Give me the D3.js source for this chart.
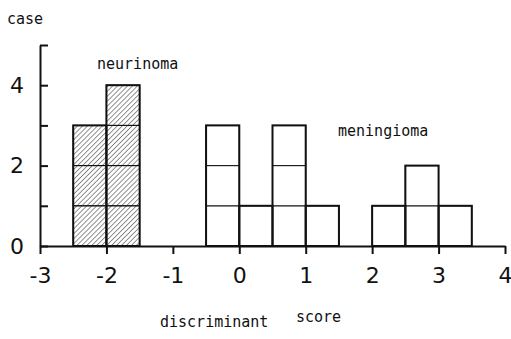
<!DOCTYPE html>
<html>
<head>
<meta charset="utf-8">
<script src="https://cdn.jsdelivr.net/npm/d3@7"></script>
<style>
  body { margin: 0; background: #fff; }
  .mono { font-family: "DejaVu Sans Mono", monospace; font-size: 15px; fill: #111; }
  .tick text { font-family: "DejaVu Sans", sans-serif; font-size: 22px; fill: #111; }
</style>
</head>
<body>
<div id="chart"></div>
<script>
const binWidth = 0.5;
const neurinomaStarts = [-2.5, -2];
const neurinomaCounts = [3, 4];
const meningiomaStarts = [-0.5, 0, 0.5, 1, 2, 2.5, 3];
const meningiomaCounts = [3, 1, 3, 1, 1, 2, 1];
const xTicks = [-3, -2, -1, 0, 1, 2, 3, 4];
const yTicks = [0, 1, 2, 3, 4, 5];
const yLabels = [0, 2, 4];

const width = 511, height = 339;

const svg = d3.select('#chart')
    .append('svg')
    .attr('width', width)
    .attr('height', height);

const x = d3.scaleLinear().domain([-3, 4]).range([40, 505]);
const y = d3.scaleLinear().domain([0, 5]).range([246, 45]);

// hatch fill
svg.append('defs').append('pattern')
    .attr('id', 'hatch')
    .attr('patternUnits', 'userSpaceOnUse')
    .attr('width', 3.5).attr('height', 3.5)
    .attr('patternTransform', 'rotate(45)')
    .append('line')
    .attr('x1', 0).attr('y1', 0).attr('x2', 0).attr('y2', 3.5)
    .attr('stroke', '#222').attr('stroke-width', 1);

function drawBars(starts, counts, fill) {
    const data = starts.map((s, i) => ({ start: s, count: counts[i] }));
    const g = svg.append('g');
    data.forEach(d => {
        // unit cells
        for (let k = 0; k < d.count; k++) {
            g.append('rect')
                .attr('x', x(d.start))
                .attr('y', y(k + 1))
                .attr('width', x(d.start + binWidth) - x(d.start))
                .attr('height', y(k) - y(k + 1))
                .attr('fill', fill)
                .attr('stroke', '#111')
                .attr('stroke-width', 1);
        }
    });
    g.selectAll('rect.outline')
        .data(data)
        .enter()
        .append('rect')
        .attr('class', 'outline')
        .attr('x', d => x(d.start))
        .attr('y', d => y(d.count))
        .attr('width', d => x(d.start + binWidth) - x(d.start))
        .attr('height', d => y(0) - y(d.count))
        .attr('fill', 'none')
        .attr('stroke', '#111')
        .attr('stroke-width', 2);
}

drawBars(neurinomaStarts, neurinomaCounts, 'url(#hatch)');
drawBars(meningiomaStarts, meningiomaCounts, '#fff');

// axes
const xAxis = svg.append('g')
    .attr('transform', `translate(0, ${y(0)})`)
    .call(d3.axisBottom(x).tickValues(xTicks).tickSize(8).tickSizeOuter(0).tickPadding(14)
        .tickFormat(d => d < 0 ? '-' + Math.abs(d) : d));

const yAxis = svg.append('g')
    .attr('transform', `translate(${x(-3)}, 0)`)
    .call(d3.axisLeft(y).tickValues(yTicks).tickSize(-8).tickSizeOuter(0).tickPadding(16)
        .tickFormat(d => yLabels.includes(d) ? d : ''));

[xAxis, yAxis].forEach(a => {
    a.select('.domain').attr('stroke', '#111').attr('stroke-width', 2);
    a.selectAll('.tick line').attr('stroke', '#111').attr('stroke-width', 2);
});
xAxis.selectAll('.tick text').attr('dy', '0.68em');

// text labels
svg.append('text').attr('class', 'mono').attr('x', 7).attr('y', 24).text('case');
svg.append('text').attr('class', 'mono').attr('x', 97).attr('y', 69).text('neurinoma');
svg.append('text').attr('class', 'mono').attr('x', 338).attr('y', 136).text('meningioma');
svg.append('text').attr('class', 'mono').attr('x', 160).attr('y', 327).text('discriminant');
svg.append('text').attr('class', 'mono').attr('x', 296).attr('y', 322).text('score');
</script>
</body>
</html>
